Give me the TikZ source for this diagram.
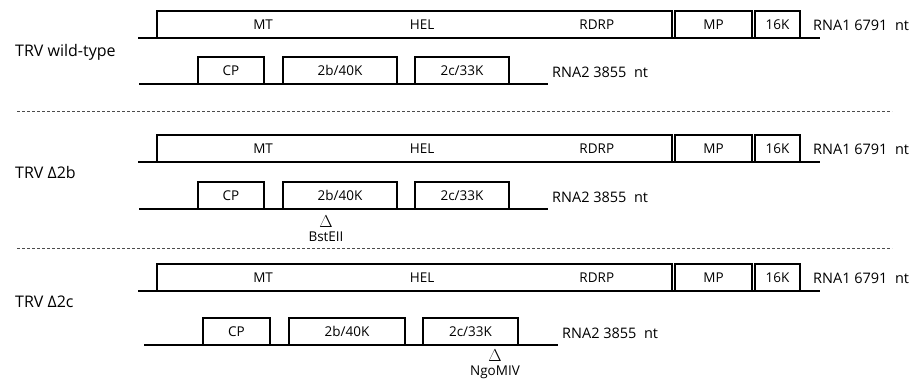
\documentclass[tikz,border=0pt]{standalone}
\usepackage{fontspec}
\setmainfont{Open Sans}
\usetikzlibrary{positioning, calc}

\begin{document}
\begin{tikzpicture}[
    x=1pt, y=-1pt,
    gene/.style={draw, line width=2pt, anchor=south west, minimum height=27pt, inner sep=0pt, outer sep=0pt, font=\fontsize{13.5}{15}\selectfont},
    lbl/.style={font=\fontsize{13.5}{15}\selectfont, inner sep=0pt},
    rna/.style={anchor=west, font=\fontsize{14.5}{16}\selectfont, inner sep=0pt},
    strain/.style={anchor=west, font=\fontsize{16}{18}\selectfont, inner sep=0pt},
    delta/.style={font=\fontsize{19}{21}\selectfont, inner sep=0pt},
    site/.style={font=\fontsize{13.5}{15}\selectfont, inner sep=0pt},
    strand/.style={line width=2.6pt},
    sep/.style={dash pattern=on 3pt off 2pt, line width=0.6pt, black!70},
]
    \useasboundingbox (0,0) rectangle (918,384);

    % --- TRV wild-type ---
    \node[strain] (wt) at (15,52) {TRV wild-type};
    \coordinate (a1) at (138,38);
    \coordinate (b1) at (820,38);
    \draw[strand] (a1) -- (b1);
    \node[gene, minimum width=515pt] (rep1) at (157,38) {};
    \node[lbl] (mt1) at ($(rep1.west)!0.206!(rep1.east)$) {MT};
    \node[lbl] (hel1) at ($(rep1.west)!0.515!(rep1.east)$) {HEL};
    \node[lbl] (rdrp1) at ($(rep1.west)!0.854!(rep1.east)$) {RDRP};
    \node[gene, minimum width=77pt] (mp1) at (675,38) {MP};
    \node[gene, minimum width=45pt] (k1) at (755,38) {16K};
    \node[rna] (r1a) at (813,25) {RNA1 6791~ nt};

    \coordinate (c1) at (139,84);
    \coordinate (d1) at (548,84);
    \draw[strand] (c1) -- (d1);
    \node[gene, minimum width=66pt] (cp1) at (198,84) {CP};
    \node[gene, minimum width=114pt] (tb1) at (283,84) {2b/40K};
    \node[gene, minimum width=94pt] (tc1) at (415,84) {2c/33K};
    \node[rna] (r1b) at (552,72) {RNA2 3855~ nt};

    \coordinate (s1) at (17,111);
    \coordinate (t1) at (892,111);
    \draw[sep] (s1) -- (t1);

    % --- TRV delta 2b ---
    \node[strain] (d2b) at (15,172) {TRV Δ2b};
    \coordinate (a2) at (138,162);
    \coordinate (b2) at (820,162);
    \draw[strand] (a2) -- (b2);
    \node[gene, minimum width=515pt] (rep2) at (157,162) {};
    \node[lbl] (mt2) at ($(rep2.west)!0.206!(rep2.east)$) {MT};
    \node[lbl] (hel2) at ($(rep2.west)!0.515!(rep2.east)$) {HEL};
    \node[lbl] (rdrp2) at ($(rep2.west)!0.854!(rep2.east)$) {RDRP};
    \node[gene, minimum width=77pt] (mp2) at (675,162) {MP};
    \node[gene, minimum width=45pt] (k2) at (755,162) {16K};
    \node[rna] (r2a) at (813,149) {RNA1 6791~ nt};

    \coordinate (c2) at (139,209);
    \coordinate (d2) at (548,209);
    \draw[strand] (c2) -- (d2);
    \node[gene, minimum width=66pt] (cp2) at (198,209) {CP};
    \node[gene, minimum width=114pt] (tb2) at (283,209) {2b/40K};
    \node[gene, minimum width=94pt] (tc2) at (415,209) {2c/33K};
    \node[rna] (r2b) at (552,197) {RNA2 3855~ nt};
    \node[delta] (del2) at (326,222) {$\Delta$};
    \node[site, below=4pt of del2] (bst) {BstEII};

    \coordinate (s2) at (17,248);
    \coordinate (t2) at (892,248);
    \draw[sep] (s2) -- (t2);

    % --- TRV delta 2c ---
    \node[strain] (d2c) at (15,302) {TRV Δ2c};
    \coordinate (a3) at (138,291);
    \coordinate (b3) at (820,291);
    \draw[strand] (a3) -- (b3);
    \node[gene, minimum width=515pt] (rep3) at (157,291) {};
    \node[lbl] (mt3) at ($(rep3.west)!0.206!(rep3.east)$) {MT};
    \node[lbl] (hel3) at ($(rep3.west)!0.515!(rep3.east)$) {HEL};
    \node[lbl] (rdrp3) at ($(rep3.west)!0.854!(rep3.east)$) {RDRP};
    \node[gene, minimum width=77pt] (mp3) at (675,291) {MP};
    \node[gene, minimum width=45pt] (k3) at (755,291) {16K};
    \node[rna] (r3a) at (813,278) {RNA1 6791~ nt};

    \coordinate (c3) at (144,345);
    \coordinate (d3) at (558,345);
    \draw[strand] (c3) -- (d3);
    \node[gene, minimum width=67pt] (cp3) at (203,345) {CP};
    \node[gene, minimum width=116pt] (tb3) at (289,345) {2b/40K};
    \node[gene, minimum width=95pt] (tc3) at (423,345) {2c/33K};
    \node[rna] (r3b) at (562,333) {RNA2 3855~ nt};
    \node[delta] (del3) at (495,356) {$\Delta$};
    \node[site, below=4pt of del3] (ngo) {NgoMIV};
\end{tikzpicture}
\end{document}
